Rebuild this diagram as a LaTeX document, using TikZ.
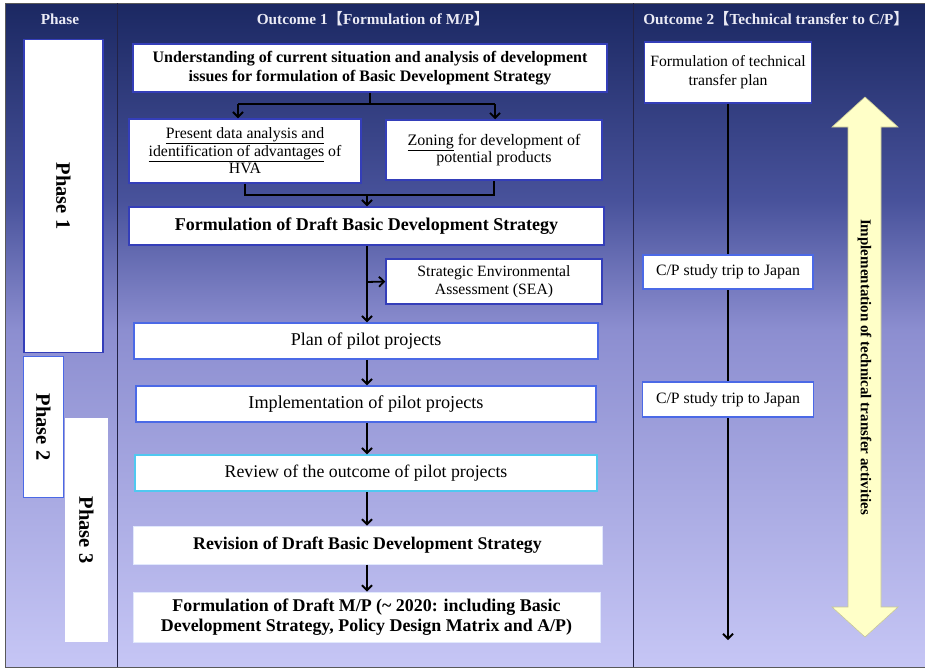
\documentclass[tikz,border=0pt]{standalone}
\usepackage{fontspec}
\setmainfont{Liberation Serif}
\newfontfamily\cjk{Noto Sans CJK SC}
\usetikzlibrary{arrows.meta}

% background bands, top to bottom
\definecolor{bgA}{RGB}{27,40,98}
\definecolor{bgB}{RGB}{72,82,155}
\definecolor{bgC}{RGB}{140,142,208}
\definecolor{bgD}{RGB}{198,198,245}
\definecolor{boxblue}{RGB}{52,62,185}
\definecolor{lightblue}{RGB}{75,105,230}
\definecolor{cyanedge}{RGB}{80,200,240}
\definecolor{softedge}{RGB}{225,232,252}
\definecolor{paleyellow}{RGB}{255,255,200}
\definecolor{yellowedge}{RGB}{200,200,150}
\definecolor{headtext}{RGB}{235,235,245}
\definecolor{divider}{RGB}{35,35,70}

\newcommand{\lb}{{\cjk 【}}
\newcommand{\rb}{{\cjk 】}}

\tikzset{
  box/.style={draw=boxblue, line width=1.5pt, fill=white, align=center,
    inner sep=2pt, text=black, font=\fontsize{15.8}{18}\selectfont},
  softbox/.style={box, draw=softedge, line width=1pt},
  sz/.style 2 args={minimum width=#1, minimum height=#2},
  phasebox/.style={box, rotate=-90, font=\bfseries\fontsize{20.5}{22}\selectfont},
  header/.style={text=headtext, font=\bfseries\fontsize{15.3}{17}\selectfont},
  conn/.style={line width=1.8pt, black},
  arr/.style={conn, -{Straight Barb[length=5pt,width=10pt]}},
  bigarrow/.style={fill=paleyellow, draw=yellowedge, line width=0.6pt},
}

\begin{document}
\begin{tikzpicture}[x=1pt,y=-1pt]
\useasboundingbox (0,0) rectangle (925,670);
\fill[white] (0,0) rectangle (925,670);

% graded backdrop
\shade[top color=bgA, bottom color=bgB] (5,3) rectangle (925,200);
\shade[top color=bgB, bottom color=bgC] (5,200) rectangle (925,330);
\shade[top color=bgC, bottom color=bgD] (5,330) rectangle (925,667);
\draw[gray!70!black, line width=0.8pt] (5,3) rectangle (925,667);

% column dividers
\draw[divider, line width=0.8pt] (117,3) -- (117,667);
\draw[divider, line width=0.8pt] (633,3) -- (633,667);

% column headings
\node[header] (hphase) at (60,19) {Phase};
\node[header] (hout1) at (373,19) {Outcome 1\lb Formulation of M/P\rb};
\node[header] (hout2) at (776,19) {Outcome 2\lb Technical transfer to C/P\rb};

% phases
\node[phasebox, sz={313}{79}] (ph1) at (63.5,196) {Phase 1};
\node[phasebox, draw=lightblue, sz={141}{40}] (ph2) at (43.5,427) {Phase 2};
\node[phasebox, draw=white, sz={223}{42}] (ph3) at (86.5,530) {Phase 3};

% outcome 1 flow
\node[box, sz={474}{48}, font=\bfseries\fontsize{16}{19}\selectfont] (u1) at (370,68)
  {Understanding of current situation and analysis of development\\
   issues for formulation of Basic Development Strategy};
\node[box, sz={232}{64}, font=\fontsize{15.8}{17.5}\selectfont] (p2) at (245,151)
  {\underline{Present data analysis and}\\
   \underline{identification of advantages} of\\ HVA};
\node[box, sz={216}{60}, font=\fontsize{16}{17.5}\selectfont] (p3) at (494,150)
  {\underline{Zoning} for development of\\ potential products};
\node[box, sz={475}{38}, font=\bfseries\fontsize{18}{20}\selectfont] (f4) at (366.5,226)
  {Formulation of Draft Basic Development Strategy};
\node[box, sz={216}{45}, font=\fontsize{15.7}{18.5}\selectfont] (sea) at (494,281.5)
  {Strategic Environmental\\ Assessment (SEA)};
\node[box, draw=lightblue, sz={464}{36}, font=\fontsize{18}{20}\selectfont] (plan) at (366,341)
  {Plan of pilot projects};
\node[box, draw=lightblue, sz={460}{36}, font=\fontsize{18.2}{20}\selectfont] (impl) at (366,404)
  {Implementation of pilot projects};
\node[box, draw=cyanedge, sz={462}{36}, font=\fontsize{17.8}{20}\selectfont] (rev) at (366,473)
  {Review of the outcome of pilot projects};
\node[softbox, sz={469}{38}, font=\bfseries\fontsize{17.8}{20}\selectfont] (revis) at (367.5,545)
  {Revision of Draft Basic Development Strategy};
\node[softbox, sz={467}{50}, font=\bfseries\fontsize{17.9}{20}\selectfont] (mp) at (366.5,617)
  {Formulation of Draft M/P (\textasciitilde\ 2020: including Basic\\
   Development Strategy, Policy Design Matrix and A/P)};

% split below the first box
\coordinate (j1) at (370,104);
\coordinate (a2) at (238,104);
\coordinate (a3) at (495,104);
\draw[conn] (u1.south) -- (j1);
\draw[conn] (a2) -- (a3);
\draw[arr] (a2) -- (a2 |- p2.north);
\draw[arr] (a3) -- (a3 |- p3.north);

% merge into the draft strategy
\coordinate (m2) at (367,195);
\draw[conn] (p2.south) |- (m2) -| (p3.south);
\draw[arr] (m2) -- (m2 |- f4.north);

% main spine
\coordinate (s1) at (367,282);
\draw[arr] (f4.south -| s1) -- (s1 |- plan.north);
\draw[arr] (s1) -- (sea.west);
\draw[arr] (plan.south -| s1) -- (s1 |- impl.north);
\draw[arr] (impl.south -| s1) -- (s1 |- rev.north);
\draw[arr] (rev.south -| s1) -- (s1 |- revis.north);
\draw[arr] (revis.south -| s1) -- (s1 |- mp.north);

% outcome 2 timeline
\coordinate (tend) at (728,640);
\node[box, sz={167}{61}, font=\fontsize{15.7}{19}\selectfont] (ttp) at (728,72.5)
  {Formulation of technical\\ transfer plan};
\draw[arr] (ttp.south) -- (tend);
\node[box, draw=lightblue, sz={170}{34}, font=\fontsize{15.8}{18}\selectfont] (cp1) at (728,272)
  {C/P study trip to Japan};
\node[box, draw=lightblue, sz={171}{35}, font=\fontsize{15.8}{18}\selectfont] (cp2) at (728,399.5)
  {C/P study trip to Japan};

% two-headed arrow of transfer activities
\draw[bigarrow] (865,97) -- (898,127) -- (881,127) -- (881,607) -- (898,607)
  -- (865,637) -- (832,607) -- (848,607) -- (848,127) -- (832,127) -- cycle;
\node[rotate=-90, font=\bfseries\fontsize{15}{17}\selectfont] (tact) at (864.5,367)
  {Implementation of technical transfer activities};
\end{tikzpicture}
\end{document}
